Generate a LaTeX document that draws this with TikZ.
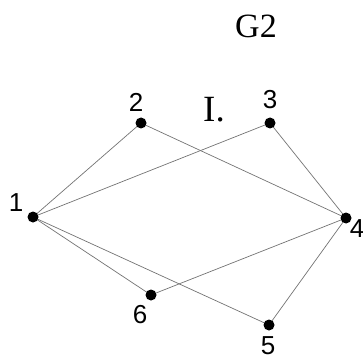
\documentclass[tikz,border=0pt]{standalone}
\usepackage{fontspec}
\setmainfont{Liberation Serif}
\setsansfont{Liberation Sans}
\usepackage{tikz}
\tikzset{
    vertex/.style = {
        circle,
        inner sep=0pt,
        minimum size=11pt
    },
    vlabel/.style = {
        font=\sffamily\fontsize{26}{26}\selectfont,
        inner sep=0pt
    },
    edge/.style = {
        draw=black!55,
        line width=0.7pt
    }
}
\begin{document}
\begin{tikzpicture}[x=1pt,y=1pt]
    \useasboundingbox (0,0) rectangle (363,359);
    \node [font=\fontsize{34}{34}\selectfont] (title) at (256,333) {G2};
    \node [font=\fontsize{37}{37}\selectfont] (mark) at (214,249) {I.};
    % vertices
    \node [vertex] (v1) at (33,142) {};
    \node [vertex] (v2) at (141,236) {};
    \node [vertex] (v3) at (270,236) {};
    \node [vertex] (v4) at (346,141) {};
    \node [vertex] (v5) at (269,34) {};
    \node [vertex] (v6) at (151,64) {};
    % vertex labels
    \node [vlabel] (l1) at ([shift={(-17,14)}]v1) {1};
    \node [vlabel] (l2) at ([shift={(-5,21)}]v2) {2};
    \node [vlabel] (l3) at ([shift={(0,23)}]v3) {3};
    \node [vlabel] (l4) at ([shift={(11,-11)}]v4) {4};
    \node [vlabel] (l5) at ([shift={(-1,-21)}]v5) {5};
    \node [vlabel] (l6) at ([shift={(-11,-20)}]v6) {6};
    % edges
    \draw [edge] (v1.center) -- (v2.center);
    \draw [edge] (v1.center) -- (v3.center);
    \draw [edge] (v1.center) -- (v6.center);
    \draw [edge] (v1.center) -- (v5.center);
    \draw [edge] (v2.center) -- (v4.center);
    \draw [edge] (v3.center) -- (v4.center);
    \draw [edge] (v6.center) -- (v4.center);
    \draw [edge] (v5.center) -- (v4.center);
    % dots on top of the edges
    \foreach \v in {v1,v2,v3,v4,v5,v6}
        \fill (\v) circle (5.5pt);
\end{tikzpicture}
\end{document}
